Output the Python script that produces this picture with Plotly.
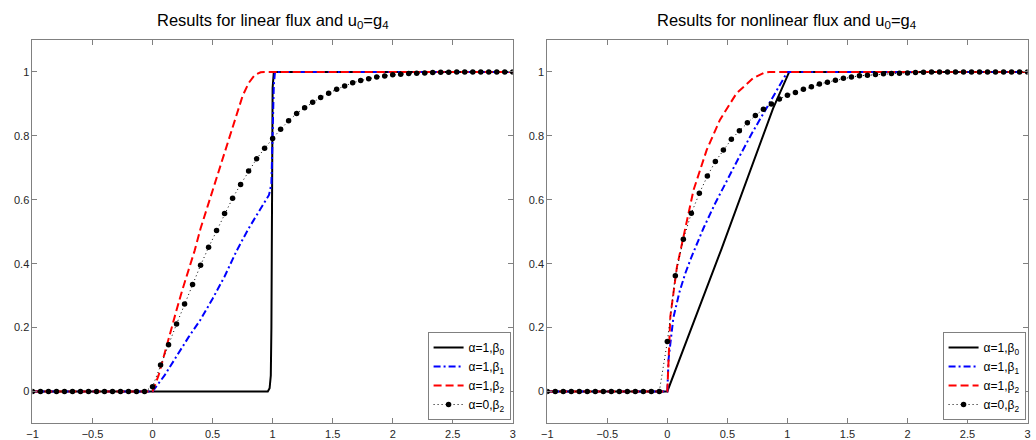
import numpy as np
import plotly.graph_objects as go

# ---------------- data ----------------
# marker grid for the alpha=0 series: x = -1 + k/15, k = 0..60
x_grid = np.round(np.linspace(-1, 3, 61), 5)

# Left panel: linear flux
lin_b0_x = [-1, 0.96, 0.975, 0.985, 0.99, 0.995, 1.0, 1.01, 3]
lin_b0_y = [0, 0, 0.01, 0.05, 0.2, 0.6, 0.95, 1, 1]

lin_b1_x = [-1, 0, 0.1, 0.2, 0.3, 0.4, 0.5, 0.6, 0.7, 0.8, 0.9, 0.97, 0.99, 1.0, 1.01, 1.02, 3]
lin_b1_y = [0, 0, 0.05, 0.11, 0.17, 0.225, 0.29, 0.36, 0.44, 0.51, 0.57, 0.615, 0.65, 0.8, 0.96, 1, 1]

lin_b2_x = [-1, 0, 0.05, 0.1, 0.15, 0.2, 0.25, 0.3, 0.35, 0.4, 0.45, 0.5, 0.55, 0.6, 0.65,
            0.7, 0.75, 0.8, 0.85, 0.9, 0.93, 3]
lin_b2_y = [0, 0, 0.05, 0.12, 0.19, 0.255, 0.32, 0.38, 0.44, 0.51, 0.57, 0.63, 0.69, 0.75, 0.81,
            0.87, 0.925, 0.965, 0.99, 0.999, 1, 1]

lin_a0_y = [0] * 15 + [0.015, 0.083, 0.146, 0.211, 0.274, 0.335, 0.395, 0.451, 0.504, 0.557,
                       0.605, 0.648, 0.690, 0.728, 0.761, 0.792, 0.821, 0.847, 0.870, 0.888,
                       0.905, 0.920, 0.933, 0.946, 0.956, 0.966, 0.973, 0.979, 0.984, 0.987,
                       0.991, 0.993, 0.995, 0.996, 0.997, 0.998, 0.999, 0.999, 1, 1,
                       1, 1, 1, 1, 1, 1]

# Right panel: nonlinear flux
nl_b0_x = [-1, 0, 0.45, 0.88, 1.015, 3]
nl_b0_y = [0, 0, 0.445, 0.885, 1.0, 1]

nl_b1_x = [-1, 0, 0.01, 0.05, 0.1, 0.15, 0.2, 0.3, 0.4, 0.5, 0.6, 0.7, 0.8, 0.9, 1.0, 3]
nl_b1_y = [0, 0, 0.1, 0.23, 0.31, 0.37, 0.42, 0.51, 0.59, 0.665, 0.735, 0.805, 0.87, 0.935, 1.0, 1]

nl_b2_x = [-1, 0, 0.025, 0.08, 0.135, 0.218, 0.328, 0.438, 0.576, 0.713, 0.81, 0.85, 3]
nl_b2_y = [0, 0, 0.234, 0.39, 0.485, 0.63, 0.756, 0.85, 0.933, 0.98, 0.998, 1, 1]

nl_a0_y = [0] * 15 + [0.156, 0.362, 0.476, 0.558, 0.620, 0.674, 0.720, 0.756, 0.789, 0.816,
                      0.841, 0.864, 0.883, 0.900, 0.915, 0.927, 0.936, 0.946, 0.954, 0.962,
                      0.968, 0.974, 0.980, 0.984, 0.988, 0.990, 0.992, 0.994, 0.995, 0.996,
                      0.997, 0.998, 0.999, 1, 1, 1, 1, 1, 1, 1,
                      1, 1, 1, 1, 1, 1]

names = ["α=1,β<sub>0</sub>", "α=1,β<sub>1</sub>", "α=1,β<sub>2</sub>", "α=0,β<sub>2</sub>"]
titles = ["Results for linear flux and u<sub>0</sub>=g<sub>4</sub>",
          "Results for nonlinear flux and u<sub>0</sub>=g<sub>4</sub>"]
x_ticks = [-1, -0.5, 0, 0.5, 1, 1.5, 2, 2.5, 3]
x_ticklabels = ["−1", "−0.5", "0", "0.5", "1", "1.5", "2", "2.5", "3"]
y_ticks = [0, 0.2, 0.4, 0.6, 0.8, 1]
y_ticklabels = ["0", "0.2", "0.4", "0.6", "0.8", "1"]

# ---------------- figure ----------------
W, H = 1036, 440
FONT = "Liberation Sans, Arial, Helvetica, sans-serif"
fig = go.Figure()

panels = [
    dict(xa="x", ya="y", leg="legend",
         b0=(lin_b0_x, lin_b0_y), b1=(lin_b1_x, lin_b1_y), b2=(lin_b2_x, lin_b2_y), a0=lin_a0_y),
    dict(xa="x2", ya="y2", leg="legend2",
         b0=(nl_b0_x, nl_b0_y), b1=(nl_b1_x, nl_b1_y), b2=(nl_b2_x, nl_b2_y), a0=nl_a0_y),
]

for p in panels:
    fig.add_trace(go.Scatter(x=p["b0"][0], y=p["b0"][1], mode="lines", name=names[0],
                             line=dict(color="black", width=2), xaxis=p["xa"], yaxis=p["ya"],
                             legend=p["leg"]))
    fig.add_trace(go.Scatter(x=p["b1"][0], y=p["b1"][1], mode="lines", name=names[1],
                             line=dict(color="#0000ff", width=2, dash="7px,3px,2px,3px"),
                             xaxis=p["xa"], yaxis=p["ya"], legend=p["leg"]))
    fig.add_trace(go.Scatter(x=p["b2"][0], y=p["b2"][1], mode="lines", name=names[2],
                             line=dict(color="#ff0000", width=2, dash="8px,4px"),
                             xaxis=p["xa"], yaxis=p["ya"], legend=p["leg"]))
    fig.add_trace(go.Scatter(x=x_grid, y=p["a0"], mode="lines+markers", name=names[3],
                             line=dict(color="black", width=1, dash="1px,3px"),
                             marker=dict(color="black", size=5.5),
                             xaxis=p["xa"], yaxis=p["ya"], legend=p["leg"]))

dom_x1 = [26.7 / W, 511.2 / W]
dom_x2 = [546.0 / W, 1030.5 / W]
dom_y = [1 - 423.4 / H, 1 - 40.0 / H]

axis_common = dict(showline=True, linecolor="#808080", linewidth=1, mirror="ticks",
                   ticks="inside", ticklen=5, tickcolor="#808080", showgrid=False,
                   zeroline=False, tickfont=dict(family=FONT, size=11, color="#262626"))

leg_common = dict(xanchor="right", y=1 - 420.0 / H, yanchor="bottom",
                  bgcolor="white", bordercolor="#808080", borderwidth=1,
                  font=dict(family=FONT, size=12, color="black"), itemwidth=30,
                  tracegroupgap=0)

fig.update_layout(
    width=W, height=H, margin=dict(l=0, r=0, t=0, b=0),
    paper_bgcolor="white", plot_bgcolor="white",
    xaxis=dict(domain=dom_x1, range=[-1, 3], tickvals=x_ticks, ticktext=x_ticklabels,
               anchor="y", **axis_common),
    yaxis=dict(domain=dom_y, range=[-0.1, 1.1], tickvals=y_ticks, ticktext=y_ticklabels,
               anchor="x", **axis_common),
    xaxis2=dict(domain=dom_x2, range=[-1, 3], tickvals=x_ticks, ticktext=x_ticklabels,
                anchor="y2", **axis_common),
    yaxis2=dict(domain=dom_y, range=[-0.1, 1.1], tickvals=y_ticks, ticktext=y_ticklabels,
                anchor="x2", **axis_common),
    legend=dict(x=509.0 / W, **leg_common),
    legend2=dict(x=1028.5 / W, **leg_common),
    showlegend=True,
)

for i, t in enumerate(titles):
    dom = dom_x1 if i == 0 else dom_x2
    fig.add_annotation(text=t, x=(dom[0] + dom[1]) / 2, y=1 - 21 / H, xref="paper", yref="paper",
                       xanchor="center", yanchor="middle", showarrow=False,
                       font=dict(family=FONT, size=16.5, color="black"))

fig.write_html("out.html")
